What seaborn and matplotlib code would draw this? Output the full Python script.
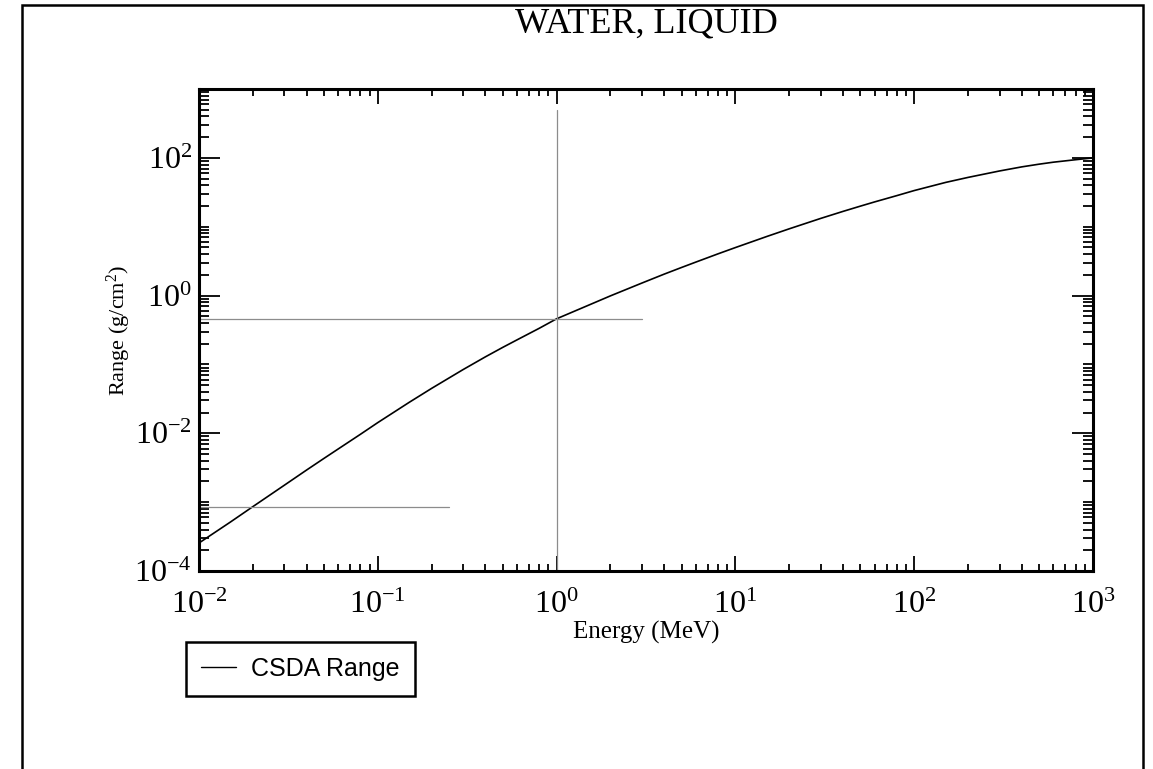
"""
CSDA range of electrons in liquid water, drawn in the old xmgrace look.
"""

import matplotlib
matplotlib.use("Agg")
import matplotlib.pyplot as plt
import matplotlib.ticker as mticker
from matplotlib.patches import Rectangle
import numpy as np
import pandas as pd
import seaborn as sns

# data
energy_mev = [0.01, 0.015, 0.02, 0.03, 0.04, 0.05, 0.06, 0.08, 0.1, 0.15,
              0.2, 0.3, 0.4, 0.5, 0.6, 0.8, 1.0, 1.5, 2.0, 3.0,
              4.0, 5.0, 6.0, 8.0, 10.0, 15.0, 20.0, 30.0, 40.0, 50.0,
              60.0, 80.0, 100.0, 150.0, 200.0, 300.0, 400.0, 500.0, 600.0, 800.0,
              1000.0]
csda_range = [2.55e-4, 5.15e-4, 8.6e-4, 1.76e-3, 2.93e-3, 4.32e-3, 5.91e-3, 9.68e-3, 1.43e-2, 2.82e-2,
              4.49e-2, 8.42e-2, 0.129, 0.177, 0.227, 0.335, 0.46, 0.72, 0.99, 1.52,
              2.05, 2.56, 3.06, 4.04, 4.98, 7.22, 9.32, 13.2, 16.7, 19.9,
              22.9, 28.3, 33.5, 44.0, 52.0, 64.5, 74.0, 81.0, 86.5, 94.0,
              100.0]

# grey guide lines
guide_vline_x = 1.0
guide_vline_y = [1e-4, 500.0]
guide_h1_y = 0.46
guide_h1_x = [0.01, 3.0]
guide_h2_y = 8.6e-4
guide_h2_x = [0.01, 0.25]

x_major = [1e-2, 1e-1, 1e0, 1e1, 1e2, 1e3]
y_major = [1e-4, 1e-2, 1e0, 1e2]

sns.set_style("ticks")
plt.rcParams["font.family"] = ["Liberation Serif", "DejaVu Serif"]
plt.rcParams["mathtext.fontset"] = "custom"
plt.rcParams["mathtext.rm"] = "Liberation Serif"
plt.rcParams["mathtext.it"] = "Liberation Serif:italic"
plt.rcParams["mathtext.bf"] = "Liberation Serif:bold"
for key in ["text.color", "axes.labelcolor", "xtick.color", "ytick.color"]:
    plt.rcParams[key] = "black"

W, H = 1153, 769
fig = plt.figure(figsize=(W / 100, H / 100), dpi=100)
ax = fig.add_axes([199 / W, 1 - 571 / H, (1093 - 199) / W, (571 - 89) / H])

df = pd.DataFrame({"energy": energy_mev, "range": csda_range})
sns.lineplot(data=df, x="energy", y="range", ax=ax, color="black",
             linewidth=1.2, label="CSDA Range")

grey = "#8c8c8c"
ax.plot([guide_vline_x, guide_vline_x], guide_vline_y, color=grey, lw=0.9)
ax.plot(guide_h1_x, [guide_h1_y, guide_h1_y], color=grey, lw=0.9)
ax.plot(guide_h2_x, [guide_h2_y, guide_h2_y], color=grey, lw=0.9)

ax.set_xscale("log")
ax.set_yscale("log")
ax.set_xlim(1e-2, 1e3)
ax.set_ylim(1e-4, 1e3)

fmt = mticker.FuncFormatter(lambda v, p: r"$10^{%d}$" % round(np.log10(v)))
ax.xaxis.set_major_locator(mticker.FixedLocator(x_major))
ax.yaxis.set_major_locator(mticker.FixedLocator(y_major))
ax.xaxis.set_major_formatter(fmt)
ax.yaxis.set_major_formatter(fmt)
ax.xaxis.set_minor_locator(mticker.LogLocator(base=10, subs=np.arange(1, 10), numticks=100))
ax.yaxis.set_minor_locator(mticker.LogLocator(base=10, subs=np.arange(1, 10), numticks=100))
ax.xaxis.set_minor_formatter(mticker.NullFormatter())
ax.yaxis.set_minor_formatter(mticker.NullFormatter())

ax.tick_params(which="both", direction="in", top=True, right=True,
               colors="black", width=1.3)
ax.tick_params(axis="x", which="major", length=11, pad=14, labelsize=23)
ax.tick_params(axis="x", which="minor", length=5)
ax.tick_params(axis="y", which="major", length=15, pad=5, labelsize=23)
ax.tick_params(axis="y", which="minor", length=7.5)
for s in ax.spines.values():
    s.set_linewidth(2.2)
    s.set_color("black")

ax.set_xlabel("Energy (MeV)", fontsize=18)
ax.set_ylabel("Range (g/cm$^2$)", fontsize=16)
ax.xaxis.set_label_coords(0.5, -0.103)
ax.yaxis.set_label_coords(-0.074, 0.5)

fig.text(646 / W, 1 - 32 / H, "WATER, LIQUID", ha="center", va="baseline",
         fontsize=26)

leg = ax.legend(loc="upper left", bbox_to_anchor=(186 / W, 1 - 642 / H),
                bbox_transform=fig.transFigure, borderaxespad=0,
                prop={"family": "Liberation Sans", "size": 18},
                frameon=True, fancybox=False, framealpha=1,
                handlelength=1.4, handletextpad=0.6, borderpad=0.6)
leg.get_frame().set_edgecolor("black")
leg.get_frame().set_linewidth(1.8)
for line in leg.get_lines():
    line.set_linewidth(1.0)

# outer page frame (runs off the bottom of the picture)
fig.add_artist(Rectangle((22 / W, -0.1), (1143 - 22) / W, 1 - 5 / H + 0.1,
                         transform=fig.transFigure, fill=False,
                         edgecolor="black", linewidth=1.8))

fig.savefig("out.png", dpi=100)
